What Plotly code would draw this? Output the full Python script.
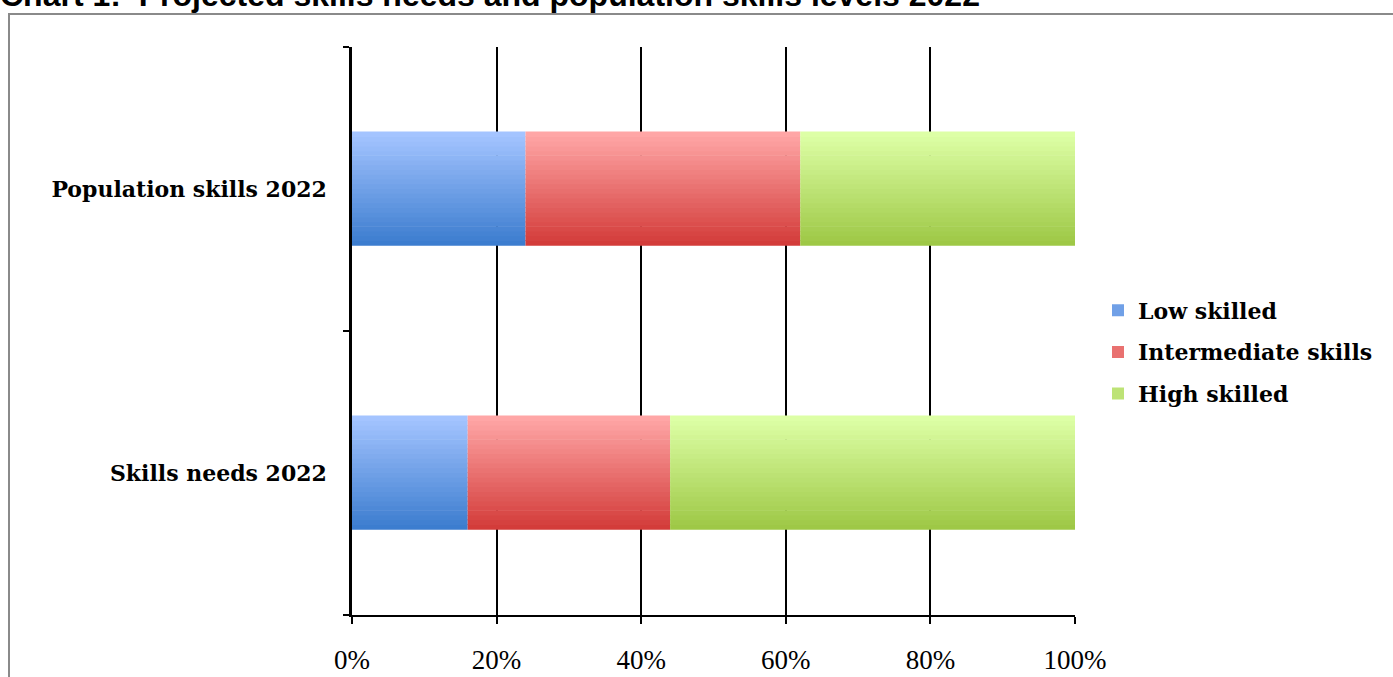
import plotly.graph_objects as go

categories = ["Skills needs 2022", "Population skills 2022"]
series_names = ["Low skilled", "Intermediate skills", "High skilled"]
low_skilled = [0.16, 0.24]
intermediate = [0.28, 0.38]
high_skilled = [0.56, 0.38]
x_ticks = [0, 0.2, 0.4, 0.6, 0.8, 1.0]

series_values = [low_skilled, intermediate, high_skilled]
# gradient colours: (top light, bottom dark)
grad = [((164, 196, 255), (60, 125, 207)),
        ((255, 166, 166), (211, 60, 58)),
        ((221, 255, 166), (158, 200, 70))]

BAR_W = 0.4
N = 24

fig = go.Figure()
bases = [0.0] * len(categories)
for si, (name, vals) in enumerate(zip(series_names, series_values)):
    light, dark = grad[si]
    mid = tuple(int((a + b) / 2) for a, b in zip(light, dark))
    step = BAR_W / N
    for k in range(N):
        t = k / (N - 1)
        col = tuple(int(round(d + (l - d) * t)) for l, d in zip(light, dark))
        fig.add_trace(go.Bar(
            y=categories, x=vals, base=list(bases), orientation="h",
            width=step * 1.15, offset=-BAR_W / 2 + k * step,
            marker=dict(color="rgb(%d,%d,%d)" % col, line=dict(width=0)),
            name=name, legendgroup=name, showlegend=False, hoverinfo="skip",
        ))
    # legend entry
    fig.add_trace(go.Bar(
        y=[categories[0]], x=[0], orientation="h", name="<b>%s</b>" % name, legendgroup=name,
        marker=dict(color="rgb(%d,%d,%d)" % mid, line=dict(width=0)),
        showlegend=True, hoverinfo="skip",
    ))
    bases = [b + v for b, v in zip(bases, vals)]

L, R, T, B = 352, 318, 47, 62
W, H = 1393, 677
pw, ph = W - L - R, H - T - B

fig.update_layout(
    width=W, height=H, barmode="overlay",
    margin=dict(l=L, r=R, t=T, b=B, autoexpand=False),
    paper_bgcolor="white", plot_bgcolor="white",
    title=dict(text="<b>Chart 1:  Projected skills needs and population skills levels 2022</b>",
               x=0.0, xanchor="left", xref="container",
               y=1 - 6 / H, yanchor="bottom", yref="container",
               font=dict(family="Liberation Sans", size=32, color="black")),
    legend=dict(x=(1098 - L) / pw, xanchor="left", y=(H - B - 352) / ph, yanchor="middle",
                font=dict(family="DejaVu Serif", size=22, color="black"),
                traceorder="grouped", tracegroupgap=10, bgcolor="rgba(0,0,0,0)"),
    xaxis=dict(range=[0, 1], tickvals=x_ticks, tickformat=".0%", automargin=False,
               showgrid=True, gridcolor="black", gridwidth=2,
               showline=True, linecolor="black", linewidth=1.5,
               ticks="outside", ticklen=7, tickcolor="black", tickwidth=1.5,
               ticklabelstandoff=13, zeroline=False,
               tickfont=dict(family="Liberation Serif", size=27, color="black")),
    yaxis=dict(type="category", categoryorder="array", categoryarray=categories,
               range=[-0.5, 1.5], tickson="boundaries", automargin=False,
               showline=True, linecolor="black", linewidth=2.5,
               ticks="outside", ticklen=6, tickcolor="black", tickwidth=1.5,
               ticklabelstandoff=18, showgrid=False, zeroline=False,
               tickfont=dict(family="DejaVu Serif", size=22, color="black"),
               tickprefix="<b>", ticksuffix="</b>"),
    shapes=[dict(type="rect", xref="paper", yref="paper",
                 x0=(9 - L) / pw, x1=(W + 20 - L) / pw,
                 y0=(H - B - (H + 20)) / ph, y1=(H - B - 14) / ph,
                 line=dict(color="#8a8a8a", width=2), fillcolor="rgba(0,0,0,0)",
                 layer="below")],
)

fig.write_html("out.html")
